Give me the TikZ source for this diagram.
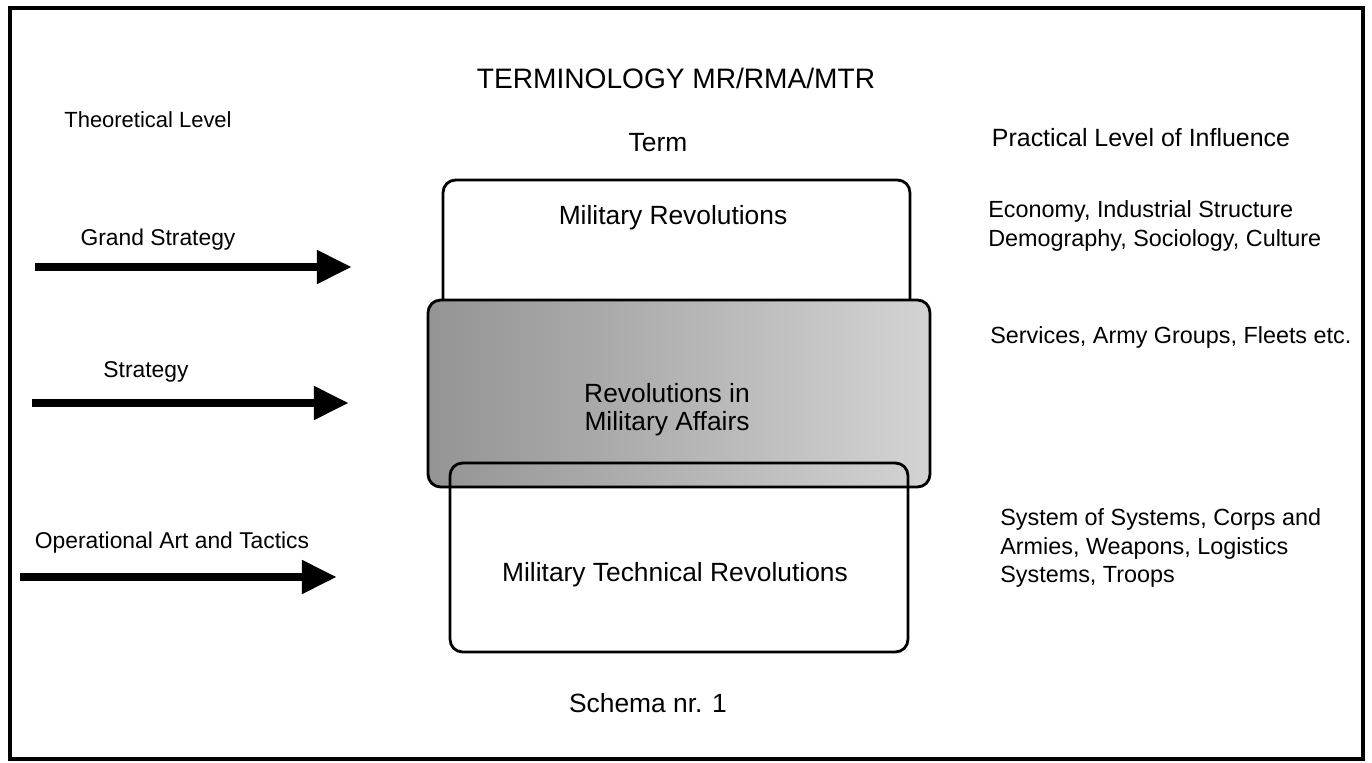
\documentclass[tikz,border=0pt]{standalone}
\usepackage{fontspec}
\setmainfont{Liberation Sans}
\usetikzlibrary{arrows.meta}

\begin{document}
\begin{tikzpicture}[x=0.02cm, y=-0.02cm,
    every node/.style={font=\fontsize{15}{16}\selectfont, inner sep=0pt},
    small/.style={font=\fontsize{13}{16}\selectfont},
    box/.style={draw, line width=1.6pt, rounded corners=0.25cm},
    bigarrow/.style={line width=5pt, -{Triangle[length=20pt,width=18pt]}},
    side/.style={align=left, anchor=west, font=\fontsize{13.3}{16}\selectfont}]
    \useasboundingbox (0,0) rectangle (1372,763);
    \draw[line width=2.6pt] (10,8) rectangle (1363,759);

    % headings
    \node (title) at (676,78) {\fontsize{16}{18}\selectfont TERMINOLOGY MR/RMA/MTR};
    \node[font=\fontsize{12.5}{16}\selectfont] (theo) at (148,120) {Theoretical Level};
    \node (term) at (658,143) {Term};
    \node[font=\fontsize{14.2}{16}\selectfont] (prac) at (1141,138) {Practical Level of Influence};

    % the three terms
    \node[box, fill=white, minimum width=9.34cm, minimum height=4.4cm] (mr) at (676.5,290) {};
    \node[box, left color=black!42, right color=black!17, minimum width=10.04cm, minimum height=3.74cm] (rma) at (679,393.5) {};
    \node[box, minimum width=9.16cm, minimum height=3.78cm] (mtr) at (679,557.5) {};
    \node (mrt) at (673,218) {Military Revolutions};
    \node[align=center] (rmat) at (667,410) {Revolutions in\\Military Affairs};
    \node (mtrt) at (675,575) {Military Technical Revolutions};

    % levels of influence
    \node[side] (mri) at (988,226) {Economy, Industrial Structure\\Demography, Sociology, Culture};
    \node[side] (rmai) at (990,337) {Services, Army Groups, Fleets etc.};
    \node[side] (mtri) at (1000,548) {System of Systems, Corps and\\Armies, Weapons, Logistics\\Systems, Troops};

    % theoretical levels
    \node[small] (gs) at (158,240) {Grand Strategy};
    \node[small] (st) at (146,372) {Strategy};
    \node[small] (oat) at (172,543) {Operational Art and Tactics};
    \coordinate (gs0) at (35,267);
    \coordinate (gs1) at (352,267);
    \coordinate (st0) at (32,403);
    \coordinate (st1) at (349,403);
    \coordinate (oat0) at (20,577);
    \coordinate (oat1) at (337,577);
    \draw[bigarrow] (gs0) -- (gs1);
    \draw[bigarrow] (st0) -- (st1);
    \draw[bigarrow] (oat0) -- (oat1);

    \node (schema) at (648,703) {Schema nr. 1};
\end{tikzpicture}
\end{document}
